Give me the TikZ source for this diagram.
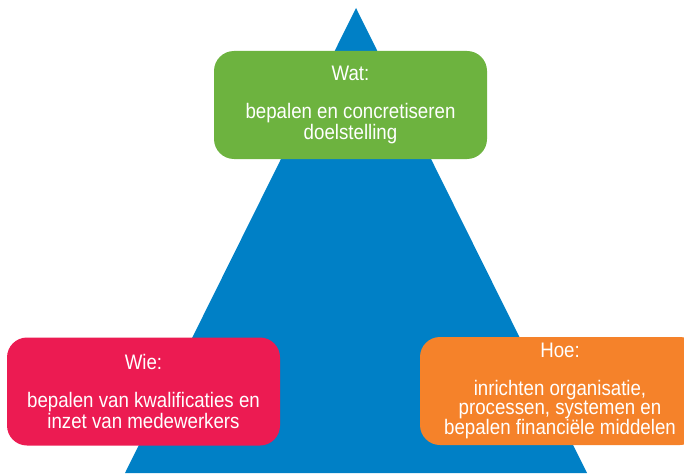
\documentclass[tikz,border=0pt]{standalone}
\usepackage{fontspec}
\setmainfont[FakeStretch=0.89]{Liberation Sans}
\usepackage{tikz}

\definecolor{driehoekblauw}{RGB}{0,128,198}
\definecolor{watgroen}{RGB}{109,179,63}
\definecolor{wierood}{RGB}{236,27,82}
\definecolor{hoeoranje}{RGB}{245,130,42}

\begin{document}
\begin{tikzpicture}[x=1pt,y=-1pt,
  vak/.style={rectangle,rounded corners=20pt,text=white,align=center,
    minimum height=108pt,inner sep=0pt,
    font=\fontsize{21}{19}\selectfont}]
\useasboundingbox (0,0) rectangle (684,473);
\fill[driehoekblauw] (356,8) -- (587,473) -- (125,473) -- cycle;
\node[vak] (Wat) [fill=watgroen, minimum width=273pt] at (350.5,105)
  {Wat:\\[19pt]bepalen en concretiseren\\doelstelling};
\node[vak] (Wie) [fill=wierood, minimum width=273pt] at (143.5,391.5)
  {Wie:\\[19pt]bepalen van kwalificaties en\\inzet van medewerkers};
\node[vak] (Hoe) [fill=hoeoranje, minimum width=280pt] at (560,391)
  {Hoe:\\[19pt]inrichten organisatie,\\processen, systemen en\\bepalen financiële middelen};
\end{tikzpicture}
\end{document}
